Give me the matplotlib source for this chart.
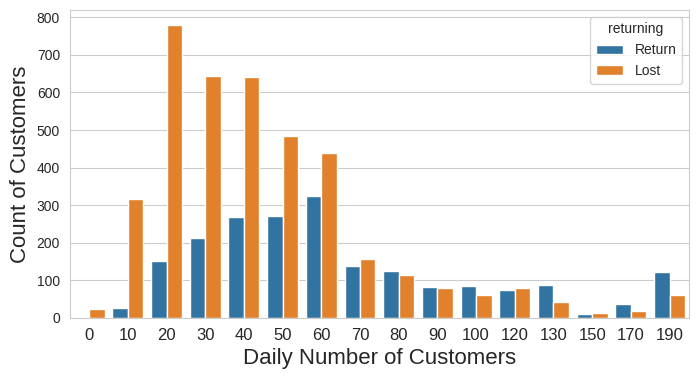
import pandas as pd
import seaborn as sns
import matplotlib
matplotlib.use('Agg')
import matplotlib.pyplot as plt

# ---- data ----
daily_customers = ['0', '10', '20', '30', '40', '50', '60', '70', '80', '90',
                   '100', '120', '130', '150', '170', '190']
return_counts = [3, 26, 152, 213, 269, 271, 324, 138, 125, 82, 85, 75, 88, 11, 37, 122]
lost_counts = [24, 317, 780, 644, 641, 484, 439, 157, 114, 80, 61, 80, 43, 13, 19, 61]

df = pd.DataFrame({
    'daily': daily_customers * 2,
    'count': return_counts + lost_counts,
    'returning': ['Return'] * len(daily_customers) + ['Lost'] * len(daily_customers),
})

sns.set_style('whitegrid')
plt.rcParams['font.family'] = ['Liberation Sans', 'DejaVu Sans']

fig = plt.figure(figsize=(6.98, 3.78), dpi=100)
ax = fig.add_subplot(1, 1, 1)
plt.subplots_adjust(left=0.1, right=0.987, top=0.974, bottom=0.159)

sns.barplot(data=df, x='daily', y='count', hue='returning', order=daily_customers,
            hue_order=['Return', 'Lost'], ax=ax)

# ---- 坐标轴设置 ----
ax.set_xlabel('Daily Number of Customers', fontsize=16)
ax.set_ylabel('Count of Customers', fontsize=16)
ax.tick_params(axis='x', labelsize=12)
ax.tick_params(axis='y', labelsize=10)
ax.set_ylim(0, 820)
ax.legend(title='returning', loc='upper right', fontsize=10, title_fontsize=10)

fig.savefig('out.png', dpi=100)
plt.close()
